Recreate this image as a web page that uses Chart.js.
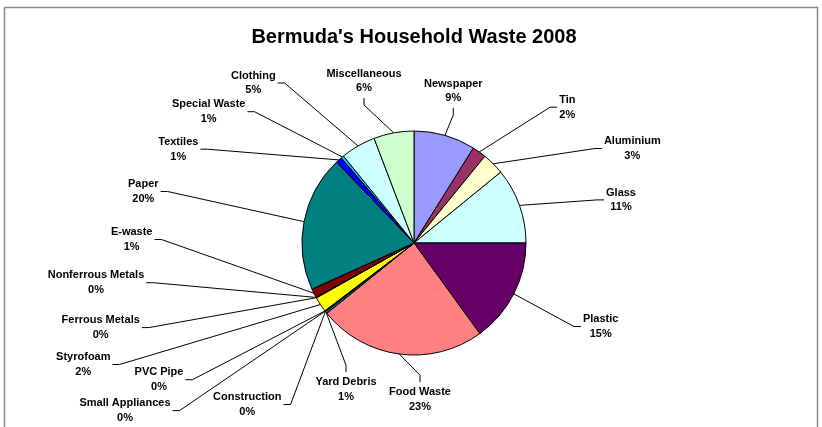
<!DOCTYPE html>
<html><head><meta charset="utf-8">
<script src="https://cdn.jsdelivr.net/npm/chart.js@4"></script>
<style>html,body{margin:0;padding:0;background:#fff}#wrap{width:822px;height:427px;position:relative}</style>
</head><body><div id="wrap"><canvas id="c" width="822" height="427"></canvas></div>
<script>
// ---- data ----
const categories = ['Newspaper','Tin','Aluminium','Glass','Plastic','Food Waste','Yard Debris','Construction','Small Appliances','PVC Pipe','Styrofoam','Ferrous Metals','Nonferrous Metals','E-waste','Paper','Textiles','Special Waste','Clothing','Miscellaneous'];
const shares = [8.9, 2.0, 3.2, 10.9, 15.0, 24.2, 0.3, 0.05, 0.05, 0.05, 2.2, 0.05, 0.05, 1.3, 19.6, 0.9, 0.4, 5.05, 5.8];
const percentLabels = ['9%','2%','3%','11%','15%','23%','1%','0%','0%','0%','2%','0%','0%','1%','20%','1%','1%','5%','6%'];
const titleText = "Bermuda's Household Waste 2008";

// ---- styles / layout ----
const sliceColors = ['#9999FF','#993366','#FFFFCC','#CCFFFF','#660066','#FF8080','#0066CC','#CCCCFF','#000080','#FF00FF','#FFFF00','#00FFFF','#800080','#800000','#008080','#0000FF','#00CCFF','#CCFFFF','#CCFFCC'];
// label block centre relative to pie centre (px), and where the label sits relative to its leader
const labelOffsets = [[39.3,-152.1],[153.3,-135.8],[218.3,-94.5],[207,-43.1],[186.7,83.5],[6,156.2],[-68,146.2],[-166.7,161.5],[-289,167.6],[-255,136.7],[-330.7,121.5],[-313.3,84.6],[-318,39.7],[-282.3,-3.5],[-270.7,-51.5],[-235.7,-93.8],[-205.3,-131.3],[-160.7,-160],[-50,-162]];
const labelSides = ['top','right','right','right','right','bottom','bottom','left','left','left','left','left','left','left','left','left','left','left','top'];
const FONT = 'Liberation Sans, Arial, sans-serif';

const labelPlugin = {
  id: 'outLabels',
  beforeDraw(chart) {
    const ctx = chart.ctx;
    ctx.save();
    ctx.fillStyle = '#fff';
    ctx.fillRect(0, 0, chart.width, chart.height);
    ctx.strokeStyle = '#8a8a8a';
    ctx.lineWidth = 1.5;
    ctx.strokeRect(4.5, 7.5, 813, 440);
    ctx.restore();
  },
  afterDatasetsDraw(chart) {
    const ctx = chart.ctx;
    const meta = chart.getDatasetMeta(0);
    ctx.save();
    ctx.font = 'bold 11px ' + FONT;
    ctx.fillStyle = '#000';
    ctx.strokeStyle = '#000';
    ctx.lineWidth = 1;
    ctx.textAlign = 'center';
    ctx.textBaseline = 'middle';
    meta.data.forEach((arc, i) => {
      const p = arc.getProps(['x','y','startAngle','endAngle','outerRadius'], true);
      const mid = (p.startAngle + p.endAngle) / 2;
      const ax = p.x + p.outerRadius * Math.cos(mid);
      const ay = p.y + p.outerRadius * Math.sin(mid);
      const cx = p.x + labelOffsets[i][0];
      const cy = p.y + labelOffsets[i][1];
      const l1 = categories[i], l2 = percentLabels[i];
      const hw = Math.max(ctx.measureText(l1).width, ctx.measureText(l2).width) / 2;
      ctx.fillText(l1, cx, cy - 7.3);
      ctx.fillText(l2, cx, cy + 7.3);
      let sx, sy, ex, ey;
      const side = labelSides[i];
      if (side === 'left') { sx = cx + hw + 2; sy = cy; ex = sx + 7; ey = sy; }
      else if (side === 'right') { sx = cx - hw - 2; sy = cy; ex = sx - 7; ey = sy; }
      else if (side === 'top') { sx = cx; sy = cy + 17; ex = sx; ey = sy + 7; }
      else { sx = cx; sy = cy - 17; ex = sx; ey = sy - 7; }
      ctx.beginPath();
      ctx.moveTo(sx, sy);
      ctx.lineTo(ex, ey);
      ctx.lineTo(ax, ay);
      ctx.stroke();
    });
    ctx.restore();
  }
};

new Chart(document.getElementById('c'), {
  type: 'pie',
  data: {
    labels: categories,
    datasets: [{
      data: shares,
      backgroundColor: sliceColors,
      borderColor: '#000',
      borderWidth: 1,
      radius: 112
    }]
  },
  options: {
    responsive: false,
    animation: false,
    layout: { padding: { left: 6, right: 0, top: 0, bottom: 0 } },
    plugins: {
      legend: { display: false },
      tooltip: { enabled: false },
      title: {
        display: true,
        text: titleText,
        color: '#000',
        font: { family: FONT, size: 20, weight: 'bold' },
        padding: { top: 25, bottom: 10 }
      }
    }
  },
  plugins: [labelPlugin]
});
</script>
</body></html>
